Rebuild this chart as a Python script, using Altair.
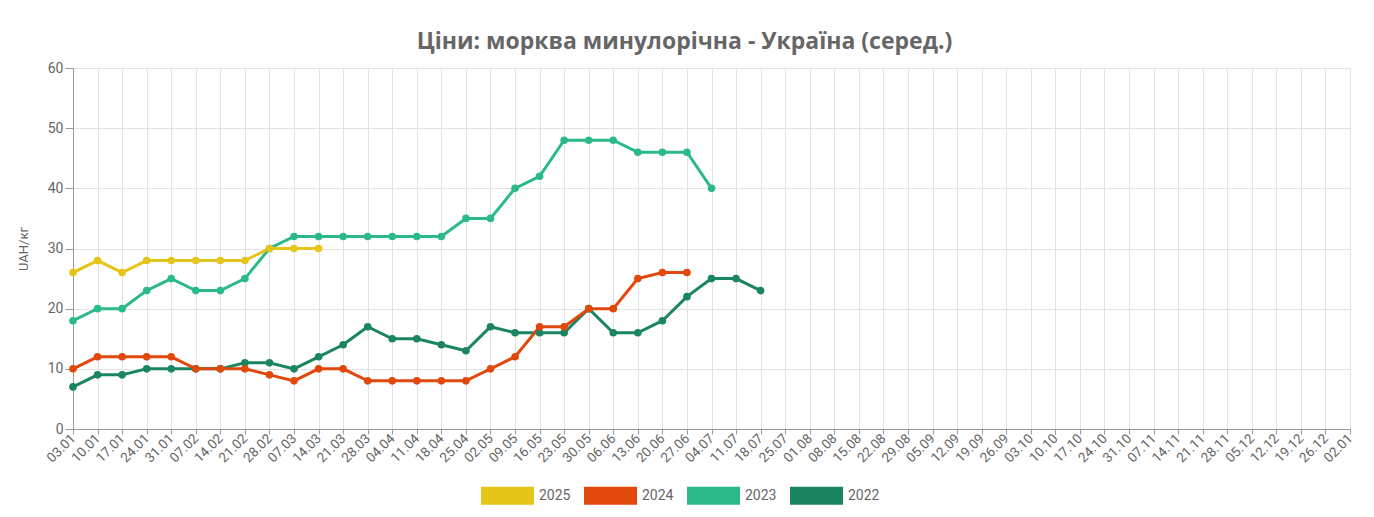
import pandas as pd
import altair as alt

# weekly labels, one year
weeks = ["03.01", "10.01", "17.01", "24.01", "31.01", "07.02", "14.02", "21.02",
         "28.02", "07.03", "14.03", "21.03", "28.03", "04.04", "11.04", "18.04",
         "25.04", "02.05", "09.05", "16.05", "23.05", "30.05", "06.06", "13.06",
         "20.06", "27.06", "04.07", "11.07", "18.07", "25.07", "01.08", "08.08",
         "15.08", "22.08", "29.08", "05.09", "12.09", "19.09", "26.09", "03.10",
         "10.10", "17.10", "24.10", "31.10", "07.11", "14.11", "21.11", "28.11",
         "05.12", "12.12", "19.12", "26.12", "02.01"]

# prices, UAH/kg
p2025 = [26, 28, 26, 28, 28, 28, 28, 28, 30, 30, 30]
p2024 = [10, 12, 12, 12, 12, 10, 10, 10, 9, 8, 10, 10, 8, 8, 8, 8, 8, 10, 12,
         17, 17, 20, 20, 25, 26, 26]
p2023 = [18, 20, 20, 23, 25, 23, 23, 25, 30, 32, 32, 32, 32, 32, 32, 32, 35, 35,
         40, 42, 48, 48, 48, 46, 46, 46, 40]
p2022 = [7, 9, 9, 10, 10, 10, 10, 11, 11, 10, 12, 14, 17, 15, 15, 14, 13, 17, 16,
         16, 16, 20, 16, 16, 18, 22, 25, 25, 23]

years = ["2025", "2024", "2023", "2022"]
colors = ["#e5c51a", "#e0480c", "#2bb98a", "#1b8562"]

# build long table, 2022 first so 2025 ends up on top
rows = []
for yr, vals in [("2022", p2022), ("2023", p2023), ("2024", p2024), ("2025", p2025)]:
    for w, v in zip(weeks, vals):
        rows.append({"week": w, "year": yr, "price": v})
df = pd.DataFrame(rows)

x = alt.X("week:O", sort=weeks, title=None,
          scale=alt.Scale(type="point", padding=0, domain=weeks),
          axis=alt.Axis(labelAngle=-45, labelAlign="right", labelBaseline="middle",
                        grid=True, tickSize=5, labelPadding=2, labelFontSize=13.5))
y = alt.Y("price:Q", title="UAH/кг",
          scale=alt.Scale(domain=[0, 60], nice=False),
          axis=alt.Axis(values=[0, 10, 20, 30, 40, 50, 60], tickSize=8,
                        titlePadding=17, labelFontSize=14))
color_scale = alt.Scale(domain=years, range=colors)
legend = alt.Legend(title=None, orient="none", direction="horizontal",
                    legendX=408, legendY=401,
                    symbolType="M-1,-0.34L1,-0.34L1,0.34L-1,0.34Z",
                    symbolSize=2809, symbolStrokeWidth=0, symbolOpacity=1,
                    labelFontSize=14, labelColor="#666666",
                    labelFont="Roboto", columnPadding=13, labelOffset=5)

lines = alt.Chart(df).mark_line(strokeWidth=3).encode(
    x=x, y=y,
    color=alt.Color("year:N", scale=color_scale, legend=legend),
    detail="year:N",
)

points = alt.Chart(df).mark_circle(size=58, opacity=1).encode(
    x=x, y=y,
    color=alt.Color("year:N", scale=color_scale, legend=legend),
)

chart = alt.layer(lines, points).properties(
    width=1277, height=361,
    background="white",
    title=alt.TitleParams("Ціни: морква минулорічна - Україна (серед.)",
                          font="Open Sans", fontSize=23, fontWeight="bold",
                          color="#666666", anchor="middle", dx=-27, offset=7),
    autosize=alt.AutoSizeParams(type="none"),
    padding={"left": 65, "top": 60, "right": 16, "bottom": 80},
).configure_view(
    stroke=None
).configure_axis(
    labelFont="Roboto", labelFontSize=13, labelColor="#666666",
    titleFont="Roboto", titleFontSize=13, titleColor="#666666", titleFontWeight="normal",
    gridColor="#e3e3e3", domainColor="#9a9a9a", tickColor="#9a9a9a",
)

chart.save("out.html", embed_options={"renderer": "svg", "actions": False})
